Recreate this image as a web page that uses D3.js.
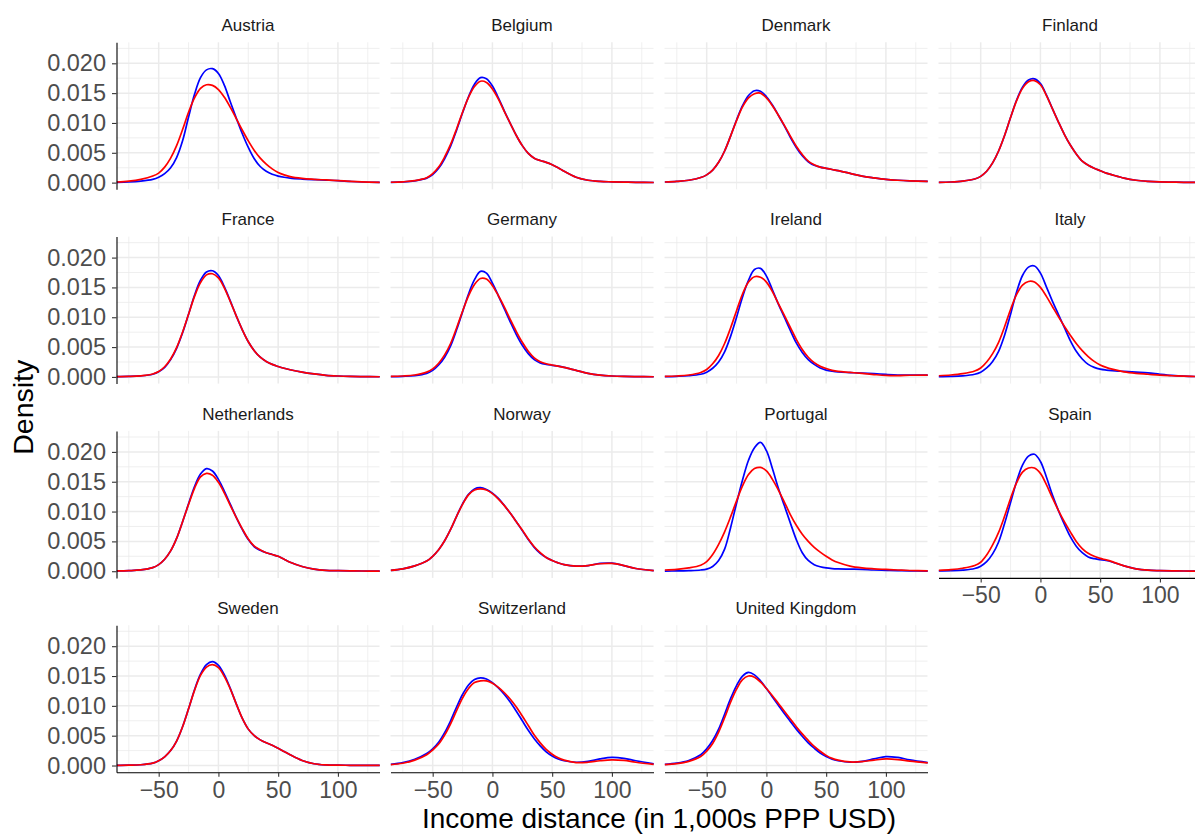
<!DOCTYPE html>
<html>
<head>
<meta charset="utf-8">
<script src="https://cdn.jsdelivr.net/npm/d3@7"></script>
<style>
	body{margin:0;background:#fff;}
	text{font-family:"Liberation Sans",Arial,sans-serif;}
</style>
</head>
<body>
<div id="chart-area"></div>
<script>
//---------DATA--------------------
let countries=["Austria","Belgium","Denmark","Finland","France","Germany","Ireland","Italy",
	"Netherlands","Norway","Portugal","Spain","Sweden","Switzerland","United Kingdom"];

// income distance (1,000s PPP USD) where the densities were read
let incomeGrid=[-85,-75,-65,-55,-50,-45,-40,-35,-30,-25,-20,-15,-10,-5,0,5,10,15,20,25,30,35,40,45,50,55,60,70,80,90,100,110,120,135];

// densities in units of 0.001, one row per country (same order as countries)
let blueDensity=[
	[0.05,0.1,0.25,0.55,0.9,1.5,2.5,4.2,7.0,11.0,14.8,17.6,18.9,19.1,18.3,16.3,13.5,10.8,8.2,5.9,4.0,2.7,1.9,1.4,1.1,0.9,0.75,0.6,0.5,0.42,0.33,0.2,0.1,0.05],
	[0.05,0.12,0.3,0.75,1.35,2.4,4.0,6.1,8.8,11.7,14.4,16.5,17.6,17.4,16.2,14.2,12.0,9.9,7.9,6.2,4.9,4.1,3.7,3.4,3.0,2.5,1.9,0.9,0.4,0.2,0.13,0.08,0.05,0.02],
	[0.1,0.2,0.4,0.85,1.3,2.1,3.4,5.3,7.8,10.5,12.9,14.6,15.4,15.3,14.4,13.0,11.3,9.5,7.6,5.9,4.5,3.5,2.9,2.6,2.4,2.2,2.0,1.55,1.1,0.8,0.55,0.4,0.3,0.2],
	[0.05,0.1,0.25,0.6,1.05,1.9,3.3,5.3,7.9,10.9,13.8,16.0,17.2,17.4,16.6,14.7,12.4,10.2,8.1,6.3,4.8,3.6,2.9,2.4,2.0,1.6,1.3,0.75,0.4,0.22,0.12,0.08,0.05,0.03],
	[0.05,0.08,0.18,0.45,0.85,1.6,2.9,4.8,7.4,10.5,13.7,16.2,17.6,17.8,17.0,15.1,12.7,10.2,7.9,5.9,4.4,3.3,2.6,2.1,1.75,1.45,1.2,0.8,0.5,0.27,0.15,0.08,0.05,0.03],
	[0.05,0.1,0.22,0.6,1.1,2.0,3.3,5.2,7.9,10.9,13.9,16.3,17.7,17.4,15.7,13.6,11.4,9.2,7.1,5.3,3.9,2.9,2.35,2.1,1.95,1.8,1.6,1.1,0.6,0.3,0.15,0.08,0.05,0.03],
	[0.05,0.1,0.2,0.45,0.8,1.45,2.5,4.2,6.8,10.0,13.4,16.2,18.0,18.2,16.9,14.6,12.2,10.0,7.8,5.7,4.1,2.9,2.1,1.5,1.15,0.95,0.82,0.72,0.65,0.55,0.42,0.32,0.3,0.3],
	[0.05,0.08,0.18,0.45,0.8,1.5,2.6,4.3,7.0,10.5,14.2,17.0,18.4,18.6,17.4,15.1,12.7,10.5,8.3,6.1,4.3,3.0,2.1,1.6,1.3,1.15,1.05,0.92,0.8,0.68,0.45,0.25,0.12,0.05],
	[0.05,0.1,0.22,0.6,1.1,2.0,3.4,5.5,8.3,11.3,14.2,16.3,17.2,16.8,15.4,13.4,11.2,9.0,7.0,5.3,4.1,3.5,3.1,2.8,2.5,2.0,1.5,0.8,0.35,0.15,0.1,0.06,0.04,0.02],
	[0.15,0.4,0.9,1.7,2.5,3.6,5.1,7.0,9.2,11.3,12.9,13.8,14.0,13.7,13.1,12.2,11.0,9.7,8.3,6.8,5.3,4.0,3.0,2.3,1.8,1.4,1.1,0.85,0.95,1.3,1.35,0.95,0.45,0.1],
	[0.03,0.05,0.1,0.2,0.35,0.8,1.8,3.7,7.3,11.4,15.3,18.6,20.7,21.6,20.2,17.2,13.9,11.0,8.1,5.3,3.1,1.8,1.1,0.75,0.55,0.45,0.4,0.35,0.3,0.2,0.15,0.1,0.06,0.03],
	[0.05,0.08,0.18,0.45,0.85,1.6,2.9,4.9,8.0,11.5,15.0,17.8,19.3,19.6,18.4,15.8,12.8,10.2,7.9,5.8,4.2,3.1,2.4,2.1,1.95,1.8,1.55,0.9,0.4,0.17,0.1,0.06,0.04,0.02],
	[0.03,0.06,0.13,0.4,0.8,1.45,2.5,4.1,6.5,9.5,12.7,15.3,16.9,17.4,16.8,15.2,12.9,10.3,7.9,6.1,5.0,4.3,3.8,3.4,2.9,2.35,1.8,0.85,0.3,0.1,0.05,0.04,0.03,0.02],
	[0.2,0.5,1.05,2.0,2.8,3.9,5.5,7.5,9.8,11.9,13.5,14.4,14.7,14.5,13.9,13.0,11.9,10.6,9.1,7.5,5.9,4.5,3.3,2.3,1.6,1.1,0.8,0.55,0.7,1.1,1.35,1.2,0.8,0.3],
	[0.2,0.4,0.85,1.8,2.8,4.2,6.1,8.6,11.2,13.4,15.0,15.6,15.2,14.2,12.9,11.5,10.1,8.7,7.4,6.1,4.9,3.8,2.9,2.1,1.5,1.05,0.8,0.55,0.7,1.1,1.5,1.35,0.95,0.5]
];

let redDensity=[
	[0.1,0.25,0.55,1.1,1.6,2.6,4.1,6.2,8.9,11.8,14.2,15.8,16.4,16.3,15.6,14.3,12.6,10.7,8.8,7.0,5.4,4.1,3.1,2.3,1.7,1.3,1.0,0.7,0.55,0.45,0.35,0.22,0.12,0.05],
	[0.06,0.13,0.32,0.8,1.5,2.6,4.3,6.4,9.0,11.8,14.3,16.1,17.0,16.8,15.7,14.0,11.9,9.9,7.9,6.2,4.9,4.1,3.7,3.4,3.0,2.5,1.9,0.9,0.4,0.2,0.13,0.08,0.05,0.02],
	[0.1,0.2,0.4,0.85,1.3,2.1,3.4,5.3,7.8,10.4,12.7,14.2,14.9,15.0,14.2,12.9,11.3,9.6,7.8,6.1,4.7,3.6,3.0,2.6,2.4,2.2,2.0,1.55,1.1,0.8,0.55,0.4,0.3,0.2],
	[0.05,0.1,0.25,0.6,1.05,1.9,3.3,5.3,7.9,10.9,13.7,15.8,16.9,17.1,16.4,14.6,12.4,10.2,8.1,6.3,4.8,3.6,2.9,2.4,2.0,1.6,1.3,0.75,0.4,0.22,0.12,0.08,0.05,0.03],
	[0.05,0.08,0.18,0.48,0.9,1.7,3.0,4.9,7.5,10.5,13.5,15.8,17.1,17.3,16.6,14.9,12.6,10.2,7.9,5.9,4.4,3.3,2.6,2.1,1.75,1.45,1.2,0.8,0.5,0.27,0.15,0.08,0.05,0.03],
	[0.08,0.15,0.32,0.8,1.35,2.3,3.7,5.6,8.2,11.0,13.6,15.5,16.5,16.4,15.3,13.6,11.7,9.6,7.6,5.8,4.3,3.2,2.55,2.2,2.0,1.8,1.6,1.1,0.6,0.3,0.15,0.08,0.05,0.03],
	[0.08,0.15,0.32,0.75,1.25,2.2,3.6,5.6,8.2,11.1,13.9,15.9,16.8,16.7,15.9,14.3,12.3,10.3,8.3,6.3,4.6,3.3,2.4,1.8,1.4,1.1,0.92,0.75,0.58,0.4,0.25,0.22,0.28,0.3],
	[0.2,0.32,0.55,1.0,1.5,2.5,3.9,5.8,8.4,11.3,13.8,15.4,16.0,15.9,15.0,13.5,11.8,10.1,8.5,7.0,5.6,4.4,3.4,2.6,2.0,1.6,1.3,0.85,0.6,0.45,0.3,0.2,0.12,0.05],
	[0.05,0.1,0.22,0.6,1.1,2.0,3.4,5.5,8.3,11.2,13.9,15.8,16.4,16.1,14.9,13.1,11.0,9.0,7.1,5.4,4.2,3.6,3.1,2.8,2.5,2.0,1.5,0.8,0.35,0.15,0.1,0.06,0.04,0.02],
	[0.15,0.4,0.9,1.7,2.5,3.6,5.1,7.0,9.2,11.2,12.8,13.6,13.8,13.6,13.0,12.1,11.0,9.7,8.3,6.9,5.4,4.1,3.1,2.3,1.8,1.4,1.1,0.85,0.95,1.25,1.3,0.95,0.45,0.1],
	[0.2,0.3,0.55,1.0,1.6,2.8,4.5,6.6,9.1,11.8,14.3,16.2,17.2,17.4,16.8,15.4,13.6,11.6,9.5,7.7,6.2,5.0,4.0,3.2,2.5,1.9,1.45,0.85,0.55,0.4,0.3,0.2,0.12,0.05],
	[0.15,0.27,0.5,0.95,1.5,2.7,4.4,6.5,9.2,12.2,14.8,16.6,17.3,17.3,16.4,14.5,12.3,10.2,8.3,6.6,5.0,3.8,3.0,2.5,2.15,1.9,1.6,0.9,0.4,0.17,0.1,0.06,0.04,0.02],
	[0.03,0.06,0.13,0.4,0.8,1.45,2.5,4.1,6.5,9.5,12.6,15.1,16.5,16.9,16.4,14.9,12.8,10.3,7.9,6.1,5.0,4.3,3.8,3.4,2.9,2.35,1.8,0.85,0.3,0.1,0.05,0.04,0.03,0.02],
	[0.15,0.38,0.9,1.8,2.6,3.6,5.1,7.0,9.2,11.3,12.9,13.9,14.2,14.2,13.8,13.1,12.2,11.1,9.8,8.3,6.7,5.1,3.8,2.7,1.9,1.3,0.9,0.5,0.55,0.8,0.95,0.85,0.55,0.2],
	[0.15,0.32,0.7,1.5,2.4,3.7,5.6,8.0,10.6,12.8,14.4,15.0,14.8,14.0,12.9,11.7,10.4,9.1,7.8,6.5,5.3,4.2,3.2,2.4,1.7,1.2,0.9,0.6,0.65,0.9,1.1,1.0,0.75,0.45]
];

let xTicks=[-50,0,50,100];
let xMinor=[-75,-25,25,75,125];
let yTicks=[0,0.005,0.010,0.015,0.020];
let yMinor=[0.0025,0.0075,0.0125,0.0175,0.0225];

//---------LAYOUT------------------
let svgWidth=1195, svgHeight=834;
let nCols=4;
let panelW=263, panelH=147;
let panelLeft=116.5, panelTop=42.3;
let colStep=274, rowStep=194.3;

let svg=d3.select("#chart-area").append('svg')
	.attr('width',svgWidth)
	.attr('height',svgHeight);

svg.append('rect')
	.attr('width',svgWidth)
	.attr('height',svgHeight)
	.attr('fill','#fff');

//---------SCALES--------------
let x=d3.scaleLinear()
	.domain([-85.3,134.8])
	.range([0,panelW]);

let y=d3.scaleLinear()
	.domain([-0.00112,0.02352])
	.range([panelH,0]);

let line=d3.line()
	.x(d=>x(d[0]))
	.y(d=>y(d[1]/1000))
	.curve(d3.curveCatmullRom.alpha(0.5));

//---------PANELS-----------------
countries.forEach(function(country,i){
	let row=Math.floor(i/nCols);
	let col=i%nCols;
	let isLeft=col===0;
	let isBottom=i+nCols>=countries.length;

	let g=svg.append('g')
		.attr("transform","translate("+(panelLeft+col*colStep)+", "+(panelTop+row*rowStep)+")");

	// strip label
	g.append('text')
		.attr('x',panelW/2)
		.attr('y',-11.3)
		.attr('text-anchor','middle')
		.attr('font-size','17px')
		.attr('fill','#1a1a1a')
		.text(country);

	// minor grid
	g.selectAll('.vminor').data(xMinor).enter().append('line')
		.attr('x1',d=>x(d)).attr('x2',d=>x(d))
		.attr('y1',0).attr('y2',panelH)
		.attr('stroke','#ebebeb').attr('stroke-width',0.8);
	g.selectAll('.hminor').data(yMinor).enter().append('line')
		.attr('x1',0).attr('x2',panelW)
		.attr('y1',d=>y(d)).attr('y2',d=>y(d))
		.attr('stroke','#ebebeb').attr('stroke-width',0.8);

	// major grid
	g.selectAll('.vmajor').data(xTicks).enter().append('line')
		.attr('x1',d=>x(d)).attr('x2',d=>x(d))
		.attr('y1',0).attr('y2',panelH)
		.attr('stroke','#ebebeb').attr('stroke-width',1.5);
	g.selectAll('.hmajor').data(yTicks).enter().append('line')
		.attr('x1',0).attr('x2',panelW)
		.attr('y1',d=>y(d)).attr('y2',d=>y(d))
		.attr('stroke','#ebebeb').attr('stroke-width',1.5);

	// density curves, blue below red
	let bluePts=incomeGrid.map((v,k)=>[v,blueDensity[i][k]]);
	let redPts=incomeGrid.map((v,k)=>[v,redDensity[i][k]]);

	g.append('path')
		.attr('d',line(bluePts))
		.attr('fill','none')
		.attr('stroke','#0000ff')
		.attr('stroke-width',1.7);

	g.append('path')
		.attr('d',line(redPts))
		.attr('fill','none')
		.attr('stroke','#ff0000')
		.attr('stroke-width',1.7);

	//-------AXES------------------
	if(isLeft){
		let yAxis=d3.axisLeft(y)
			.tickValues(yTicks)
			.tickSize(4.5)
			.tickSizeOuter(0)
			.tickPadding(6)
			.tickFormat(d3.format('.3f'));
		let yg=g.append('g').call(yAxis);
		yg.select('.domain').attr('stroke','#000').attr('stroke-width',1.1);
		yg.selectAll('.tick line').attr('stroke','#333').attr('stroke-width',1.1);
		yg.selectAll('.tick text')
			.attr('font-size','23.5px')
			.attr('font-family','"Liberation Sans",Arial,sans-serif')
			.attr('fill','#4d4d4d');
	}

	if(isBottom){
		let xAxis=d3.axisBottom(x)
			.tickValues(xTicks)
			.tickSize(4.5)
			.tickSizeOuter(0)
			.tickPadding(4.5)
			.tickFormat(d3.format('d'));
		let xg=g.append('g')
			.attr("transform","translate(0, "+panelH+")")
			.call(xAxis);
		xg.select('.domain').attr('stroke','#000').attr('stroke-width',1.1);
		xg.selectAll('.tick line').attr('stroke','#333').attr('stroke-width',1.1);
		xg.selectAll('.tick text')
			.attr('font-size','23px')
			.attr('font-family','"Liberation Sans",Arial,sans-serif')
			.attr('fill','#4d4d4d');
	}
});

//------LABELS----------------
svg.append('text')
	.attr('x',panelLeft+(3*colStep+panelW)/2)
	.attr('y',828)
	.attr('text-anchor','middle')
	.attr('font-size','28px')
	.attr('fill','#000')
	.text('Income distance (in 1,000s PPP USD)');

svg.append('text')
	.attr('transform','translate(33, '+(panelTop+(3*rowStep+panelH)/2)+') rotate(-90)')
	.attr('text-anchor','middle')
	.attr('font-size','28.5px')
	.attr('fill','#000')
	.text('Density');
</script>
</body>
</html>
